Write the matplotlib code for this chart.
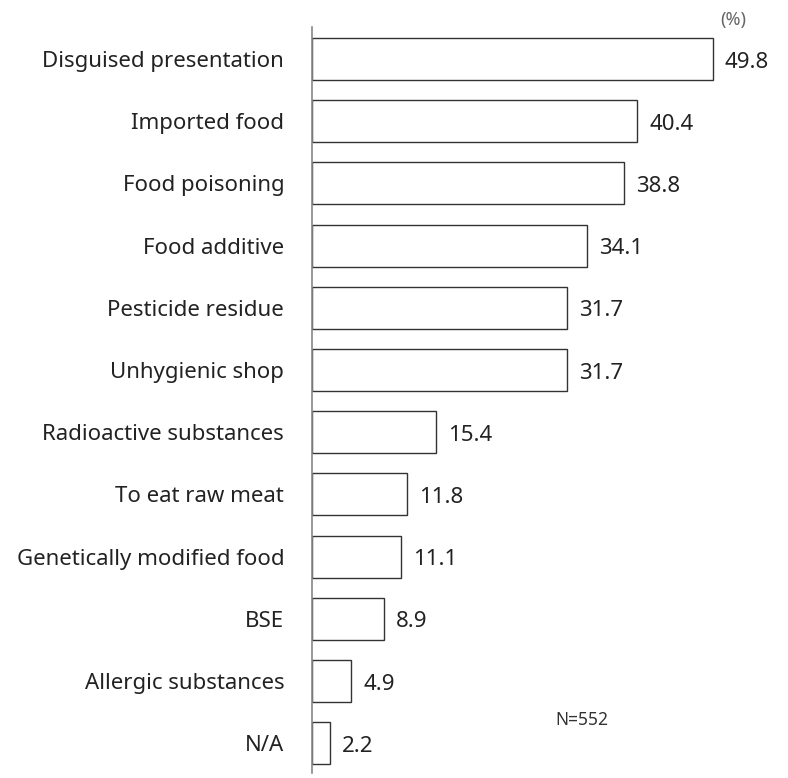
import matplotlib
matplotlib.use("Agg")
import matplotlib.pyplot as plt

plt.rcParams['font.family'] = ['Noto Sans', 'DejaVu Sans']

categories = ["Disguised presentation", "Imported food", "Food poisoning",
              "Food additive", "Pesticide residue", "Unhygienic shop",
              "Radioactive substances", "To eat raw meat",
              "Genetically modified food", "BSE", "Allergic substances", "N/A"]
values = [49.8, 40.4, 38.8, 34.1, 31.7, 31.7, 15.4, 11.8, 11.1, 8.9, 4.9, 2.2]

fig = plt.figure(figsize=(7.88, 7.78), dpi=100)
W, H = 788, 778
ax = fig.add_axes([312 / W, 1 - 773 / H, (780 - 312) / W, (773 - 27) / H])

pos = list(range(len(categories)))
ax.barh(pos, values, height=0.675, color='white', edgecolor='#333333', linewidth=1)

for p, v in zip(pos, values):
    ax.text(v + 1.5, p + 0.05, f"{v:.1f}", va='center', ha='left', fontsize=16, color='#222222')

ax.set_xlim(0, (780 - 312) / 8.05)
ax.set_ylim(11.48, -0.515)
ax.set_yticks(pos)
ax.set_yticklabels(categories, fontsize=16, color='#222222')
ax.tick_params(axis='y', length=0, pad=20)
ax.set_xticks([])
for s in ['top', 'right', 'bottom']:
    ax.spines[s].set_visible(False)
ax.spines['left'].set_color('#888888')
ax.spines['left'].set_linewidth(1.2)

fig.text(733 / W, 1 - 20 / H, "(%)", ha='center', va='center', fontsize=13, color='#666666')
fig.text(582 / W, 1 - 720 / H, "N=552", ha='center', va='center', fontsize=12.5, color='#333333')

fig.savefig("out.png", dpi=100, facecolor='white')
